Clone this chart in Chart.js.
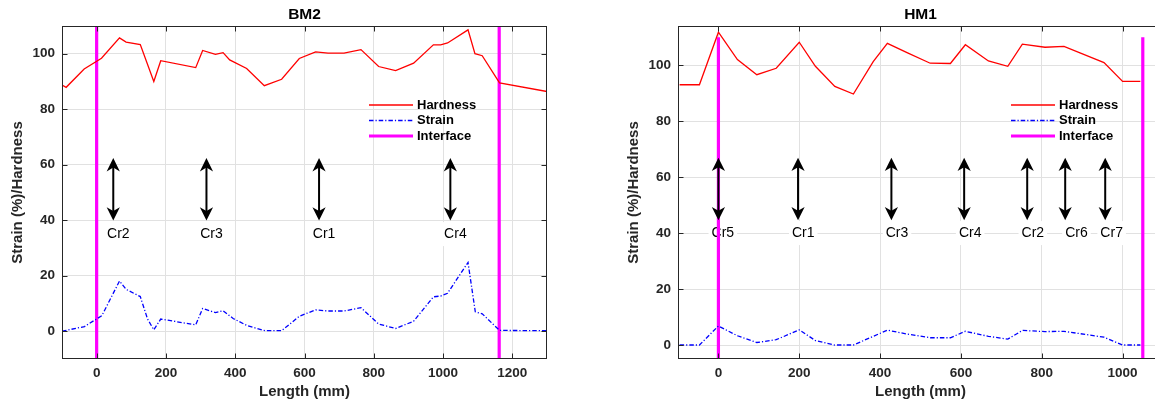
<!DOCTYPE html>
<html>
<head>
<meta charset="utf-8">
<script src="https://cdn.jsdelivr.net/npm/chart.js@4/dist/chart.umd.min.js"></script>
<style>
  html, body { margin: 0; padding: 0; background: #fff; overflow: hidden; width: 1155px; height: 403px; }
  .panel { position: absolute; top: 0; }
</style>
</head>
<body>
<div class="panel" style="left:0px"><canvas id="bm2" width="577" height="403"></canvas></div>
<div class="panel" style="left:616px"><canvas id="hm1" width="577" height="403"></canvas></div>
<script>
// ---------- BM2 ----------
const BM2_HARDNESS_X = [-100, -88, -36, 14, 66, 85, 126, 165, 185, 286, 306, 343, 365, 384, 433, 484, 534, 585, 632, 668, 714, 763, 814, 863, 915, 972, 993, 1013, 1072, 1092, 1113, 1163, 1300];
const BM2_HARDNESS   = [88.7, 87.9, 94.5, 98.4, 105.7, 104.2, 103.3, 90.0, 97.5, 95.0, 101.2, 99.8, 100.4, 97.8, 94.7, 88.5, 90.8, 98.3, 100.7, 100.2, 100.2, 101.5, 95.4, 93.9, 96.6, 103.2, 103.2, 103.9, 108.6, 100.0, 99.3, 89.5, 86.4];
const BM2_STRAIN_X   = [-100, -35, 15, 66, 85, 126, 147, 165, 185, 286, 306, 343, 365, 394, 435, 486, 534, 585, 632, 668, 714, 763, 814, 863, 915, 972, 993, 1013, 1072, 1093, 1113, 1163, 1300];
const BM2_STRAIN     = [0.0, 1.7, 5.6, 18.1, 15.1, 12.5, 4.4, 0.5, 4.4, 2.3, 8.2, 6.7, 7.4, 4.6, 2.0, 0.2, 0.2, 5.4, 7.7, 7.3, 7.3, 8.5, 2.6, 1.0, 3.6, 12.4, 12.7, 13.7, 24.8, 7.0, 6.3, 0.3, 0.2];
const BM2_INTERFACE_X = [0, 1162];
const BM2_INTERFACE_Y = [-10, 110];
const BM2_CRACKS       = ['Cr2', 'Cr3', 'Cr1', 'Cr4'];
const BM2_CRACK_X      = [48, 317, 642, 1021];
const BM2_CRACK_LABEL_X = [30, 299, 624, 1003];
const BM2_ARROW_Y      = [39.9, 62.4];
const BM2_LABEL_Y      = 35;
const BM2_X_TICKS = [0, 200, 400, 600, 800, 1000, 1200];
const BM2_Y_TICKS = [0, 20, 40, 60, 80, 100];

// ---------- HM1 ----------
const HM1_HARDNESS_X = [-96, -47, 0, 47, 95, 143, 200, 240, 288, 334, 383, 418, 468, 524, 574, 611, 668, 716, 752, 808, 855, 954, 1000, 1044];
const HM1_HARDNESS   = [93.0, 93.0, 111.8, 102.0, 96.6, 98.9, 108.2, 99.6, 92.4, 89.7, 101.3, 107.8, 104.4, 100.7, 100.6, 107.3, 101.5, 99.6, 107.5, 106.4, 106.7, 100.9, 94.2, 94.2];
const HM1_STRAIN_X   = [-96, -47, 0, 47, 95, 143, 200, 240, 288, 334, 418, 468, 524, 574, 611, 668, 716, 752, 808, 855, 954, 1000, 1044];
const HM1_STRAIN     = [0.0, 0.0, 6.8, 3.3, 0.9, 1.9, 5.4, 1.6, 0.0, 0.0, 5.3, 3.9, 2.6, 2.6, 4.9, 3.1, 2.1, 5.2, 4.8, 4.9, 2.8, 0.0, 0.0];
const HM1_INTERFACE_X = [0, 1050];
const HM1_INTERFACE_Y = [-5, 110];
const HM1_CRACKS       = ['Cr5', 'Cr1', 'Cr3', 'Cr4', 'Cr2', 'Cr6', 'Cr7'];
const HM1_CRACK_X      = [0, 197, 428, 608, 764, 858, 957];
const HM1_CRACK_LABEL_X = [-17, 182, 414, 595, 750, 858, 945];
const HM1_ARROW_Y      = [44.6, 66.9];
const HM1_LABEL_Y      = 40;
const HM1_X_TICKS = [0, 200, 400, 600, 800, 1000];
const HM1_Y_TICKS = [0, 20, 40, 60, 80, 100];

const FONT = '"Liberation Sans", Arial, Helvetica, sans-serif';
const AXIS_INK = '#262626';
const GRID = '#e1e1e1';
const STRAIN_DASH = [4.5, 2, 1.2, 2];

Chart.defaults.font.family = FONT;
Chart.defaults.color = AXIS_INK;

const pts = (xs, ys) => xs.map((x, i) => ({ x, y: ys[i] }));
const plainNumber = v => String(v);

// Double-headed arrow with swept-back heads
function drawHead(ctx, x, y, dir) {
  const L = 13.3, W = 6.6, notch = 9.5;
  ctx.beginPath();
  ctx.moveTo(x, y);
  ctx.lineTo(x - W, y + dir * L);
  ctx.lineTo(x, y + dir * notch);
  ctx.lineTo(x + W, y + dir * L);
  ctx.closePath();
  ctx.fill();
}

function decorations(spec) {
  return {
    id: 'decor_' + spec.title,
    beforeDatasetsDraw(chart) {
      const { ctx, scales: { x, y } } = chart;
      ctx.save();
      ctx.font = '14px ' + FONT;
      ctx.textBaseline = 'middle';
      ctx.textAlign = 'left';
      spec.cracks.forEach((t, i) => {
        const px = x.getPixelForValue(spec.labelX[i]);
        const py = y.getPixelForValue(spec.labelY);
        const w = ctx.measureText(t).width;
        ctx.fillStyle = '#ffffff';
        ctx.fillRect(px - 3, py - 12, w + 6, 24);
        ctx.fillStyle = '#000000';
        ctx.fillText(t, px, py);
      });
      ctx.restore();
    },
    afterDatasetsDraw(chart) {
      const { ctx, scales: { x, y } } = chart;
      ctx.save();
      ctx.strokeStyle = '#000';
      ctx.fillStyle = '#000';
      ctx.lineWidth = 2;
      const yb = y.getPixelForValue(spec.arrowY[0]);
      const yt = y.getPixelForValue(spec.arrowY[1]);
      spec.crackX.forEach(v => {
        const px = x.getPixelForValue(v);
        ctx.beginPath();
        ctx.moveTo(px, yt + 8);
        ctx.lineTo(px, yb - 8);
        ctx.stroke();
        drawHead(ctx, px, yt, 1);
        drawHead(ctx, px, yb, -1);
      });
      ctx.restore();
    },
    afterDraw(chart) {
      const { ctx, chartArea: a, scales: { x, y } } = chart;
      ctx.save();
      // axes box
      const L = Math.round(a.left) + 0.5, R = Math.round(a.right) - 0.5;
      const T = Math.round(a.top) + 0.5, B = Math.round(a.bottom) - 0.5;
      ctx.strokeStyle = AXIS_INK;
      ctx.lineWidth = 1;
      ctx.strokeRect(L, T, R - L, B - T);
      // inward tick marks on all four sides
      ctx.beginPath();
      spec.xTicks.forEach(v => {
        const px = Math.round(x.getPixelForValue(v)) + 0.5;
        ctx.moveTo(px, B); ctx.lineTo(px, B - 5);
        ctx.moveTo(px, T); ctx.lineTo(px, T + 5);
      });
      spec.yTicks.forEach(v => {
        const py = Math.round(y.getPixelForValue(v)) + 0.5;
        ctx.moveTo(L, py); ctx.lineTo(L + 5, py);
        ctx.moveTo(R, py); ctx.lineTo(R - 5, py);
      });
      ctx.stroke();
      // title
      ctx.fillStyle = '#000';
      ctx.font = 'bold 15.5px ' + FONT;
      ctx.textAlign = 'center';
      ctx.textBaseline = 'middle';
      ctx.fillText(spec.title, (a.left + a.right) / 2, 15);
      // legend (one entry per series style)
      const lg = spec.legend;
      const x0 = a.left + lg.dx, x1 = x0 + 44;
      ctx.font = 'bold 13px ' + FONT;
      ctx.textAlign = 'left';
      [0, 1, 2].forEach((di, r) => {
        const ds = chart.data.datasets[di];
        const ry = a.top + lg.rows[r];
        ctx.save();
        ctx.strokeStyle = ds.borderColor;
        ctx.lineWidth = ds.borderWidth;
        ctx.setLineDash(ds.borderDash || []);
        ctx.beginPath();
        ctx.moveTo(x0, ry);
        ctx.lineTo(x1, ry);
        ctx.stroke();
        ctx.restore();
        ctx.fillStyle = '#000';
        ctx.fillText(ds.label, x1 + 4, ry);
      });
      ctx.restore();
    }
  };
}

function makePanel(id, spec) {
  const datasets = [
    { label: 'Hardness', data: pts(spec.hx, spec.hy), borderColor: '#ff0000', borderWidth: 1.3, pointRadius: 0, tension: 0 },
    { label: 'Strain', data: pts(spec.sx, spec.sy), borderColor: '#0000ff', borderWidth: 1.3, borderDash: STRAIN_DASH, pointRadius: 0, tension: 0 },
  ];
  spec.interfaceX.forEach((v, i) => {
    datasets.push({
      label: 'Interface',
      data: [{ x: v, y: spec.interfaceY[0] }, { x: v, y: spec.interfaceY[1] }],
      borderColor: '#ff00ff', borderWidth: 3.2, pointRadius: 0, tension: 0
    });
  });
  return new Chart(document.getElementById(id), {
    type: 'line',
    data: { datasets },
    options: {
      responsive: false,
      maintainAspectRatio: false,
      animation: false,
      devicePixelRatio: 1,
      layout: { padding: { top: 26, right: 30, left: 0, bottom: 0 } },
      plugins: { legend: { display: false }, tooltip: { enabled: false }, title: { display: false } },
      scales: {
        x: {
          type: 'linear', min: spec.xRange[0], max: spec.xRange[1],
          afterBuildTicks: s => { s.ticks = spec.xTicks.map(v => ({ value: v })); },
          afterFit: s => { s.height = 44; },
          grid: { color: GRID, lineWidth: 1, drawTicks: false },
          border: { display: false },
          ticks: { autoSkip: false, maxRotation: 0, padding: 6, color: AXIS_INK, font: { size: 13.5, weight: 'bold' }, callback: plainNumber },
          title: { display: true, text: 'Length (mm)', color: AXIS_INK, font: { size: 15, weight: 'bold' }, padding: { top: 0, bottom: 2.5 } }
        },
        y: {
          type: 'linear', min: spec.yRange[0], max: spec.yRange[1],
          afterBuildTicks: s => { s.ticks = spec.yTicks.map(v => ({ value: v })); },
          afterFit: s => { s.width = 62; },
          grid: { color: GRID, lineWidth: 1, drawTicks: false },
          border: { display: false },
          ticks: { padding: 7, color: AXIS_INK, font: { size: 13.5, weight: 'bold' }, callback: plainNumber },
          title: { display: true, text: 'Strain (%)/Hardness', color: AXIS_INK, font: { size: 15, weight: 'bold' }, padding: { top: 9, bottom: 0 } }
        }
      }
    },
    plugins: [decorations(spec)]
  });
}

makePanel('bm2', {
  title: 'BM2',
  hx: BM2_HARDNESS_X, hy: BM2_HARDNESS, sx: BM2_STRAIN_X, sy: BM2_STRAIN,
  interfaceX: BM2_INTERFACE_X, interfaceY: BM2_INTERFACE_Y,
  cracks: BM2_CRACKS, crackX: BM2_CRACK_X, labelX: BM2_CRACK_LABEL_X,
  arrowY: BM2_ARROW_Y, labelY: BM2_LABEL_Y,
  xTicks: BM2_X_TICKS, yTicks: BM2_Y_TICKS,
  xRange: [-100, 1300], yRange: [-10, 110],
  legend: { dx: 307, rows: [79, 94.5, 110] }
});

makePanel('hm1', {
  title: 'HM1',
  hx: HM1_HARDNESS_X, hy: HM1_HARDNESS, sx: HM1_STRAIN_X, sy: HM1_STRAIN,
  interfaceX: HM1_INTERFACE_X, interfaceY: HM1_INTERFACE_Y,
  cracks: HM1_CRACKS, crackX: HM1_CRACK_X, labelX: HM1_CRACK_LABEL_X,
  arrowY: HM1_ARROW_Y, labelY: HM1_LABEL_Y,
  xTicks: HM1_X_TICKS, yTicks: HM1_Y_TICKS,
  xRange: [-100, 1100], yRange: [-5, 114],
  legend: { dx: 333, rows: [79, 94.5, 110] }
});
</script>
</body>
</html>
